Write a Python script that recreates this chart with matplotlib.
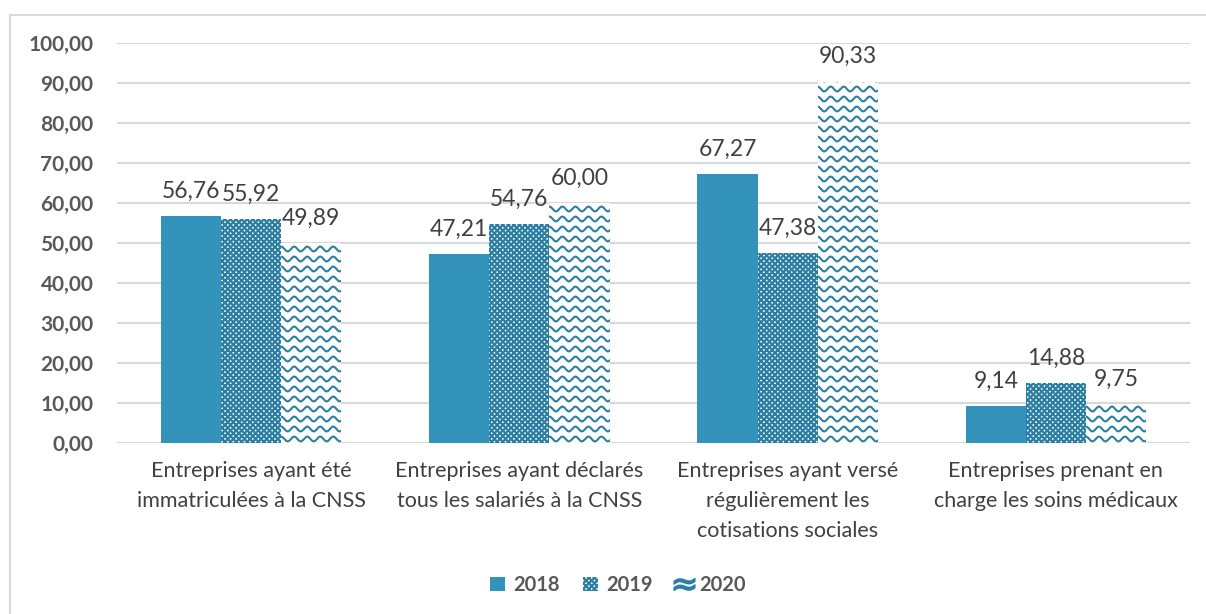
import numpy as np
import matplotlib
matplotlib.use("Agg")
import matplotlib.pyplot as plt
from matplotlib.patches import Rectangle
from matplotlib.lines import Line2D

categories = [
    "Entreprises ayant été\nimmatriculées à la CNSS",
    "Entreprises ayant déclarés\ntous les salariés à la CNSS",
    "Entreprises ayant versé\nrégulièrement les\ncotisations sociales",
    "Entreprises prenant en\ncharge les soins médicaux",
]
years = ["2018", "2019", "2020"]
v2018 = [56.76, 47.21, 67.27, 9.14]
v2019 = [55.92, 54.76, 47.38, 14.88]
v2020 = [49.89, 60.00, 90.33, 9.75]
yticks = [0, 10, 20, 30, 40, 50, 60, 70, 80, 90, 100]

plt.rcParams['font.family'] = ['Lato', 'DejaVu Sans']
plt.rcParams['hatch.linewidth'] = 1.6

TEAL = "#3393BA"
PAT = "#2C7FA3"
GRID = "#D9D9D9"
TXT = "#404040"
TICK = "#595959"

fig = plt.figure(figsize=(12.06, 6.14), dpi=100)
ax = fig.add_axes([117/1206, 1 - 443/614, (1190-117)/1206, 400/614])

# chart border
fig.patches.append(Rectangle((10/1206, -0.02), 1.1, (614-15)/614 + 0.02,
                             transform=fig.transFigure, fill=False,
                             edgecolor=GRID, linewidth=1.5, zorder=0))

x = np.arange(len(categories))
w = 0.224
b18 = ax.bar(x - w, v2018, w, color=TEAL, linewidth=0, zorder=3)
b19 = ax.bar(x, v2019, w, facecolor="white", edgecolor=PAT, hatch="xxxxxx",
             linewidth=0, zorder=3)
b20 = ax.bar(x + w, v2020, w, facecolor="white", edgecolor="white",
             linewidth=0, zorder=3)

# wavy pattern fill for 2020 bars
period = 0.0485
amp = 0.6
step = 2.5
for rect in b20:
    x0 = rect.get_x()
    xx = np.linspace(x0 - 0.01, x0 + rect.get_width() + 0.01, 200)
    h = rect.get_height()
    for r in np.arange(1.0, h + step, step):
        yy = r + amp * np.cos(2 * np.pi * (xx - x0) / period)
        ln, = ax.plot(xx, yy, color=PAT, lw=1.5, zorder=4)
        ln.set_clip_path(rect)

for bars in (b18, b19, b20):
    for rect in bars:
        val = rect.get_height()
        ax.annotate(f"{val:.2f}".replace(".", ","),
                    (rect.get_x() + rect.get_width() / 2, val),
                    xytext=(0, 18), textcoords="offset points",
                    ha="center", va="center", fontsize=16.5, color=TXT, zorder=5)

ax.set_ylim(0, 100)
ax.set_xlim(-0.5, len(categories) - 0.5)
ax.set_yticks(yticks, labels=[f"{v:.2f}".replace(".", ",") for v in yticks],
              fontweight="bold", color=TICK, fontsize=15)
ax.grid(axis="y", color=GRID, linewidth=1.5, zorder=0)
ax.set_axisbelow(True)
for s in ax.spines.values():
    s.set_visible(False)
ax.tick_params(axis="both", length=0)
ax.tick_params(axis="y", pad=17)
ax.set_xticks(x, labels=categories, fontsize=15.5, color=TXT, linespacing=1.62)
ax.tick_params(axis="x", pad=13)

handles = [
    Rectangle((0, 0), 1, 1, facecolor=TEAL, linewidth=0),
    Rectangle((0, 0), 1, 1, facecolor="white", edgecolor=PAT, hatch="xxxxxx", linewidth=0),
    Line2D([], [], marker=r"$\approx$", color=PAT, linestyle="none", markersize=15),
]
leg = fig.legend(handles, years, loc="center", bbox_to_anchor=(618/1206, 1 - 585/614),
                 ncol=3, frameon=False, handlelength=0.75, handleheight=0.75,
                 handletextpad=0.4, columnspacing=1.15,
                 prop={"weight": "bold", "size": 14.5})
for t in leg.get_texts():
    t.set_color(TICK)

fig.savefig("out.png", dpi=100)
